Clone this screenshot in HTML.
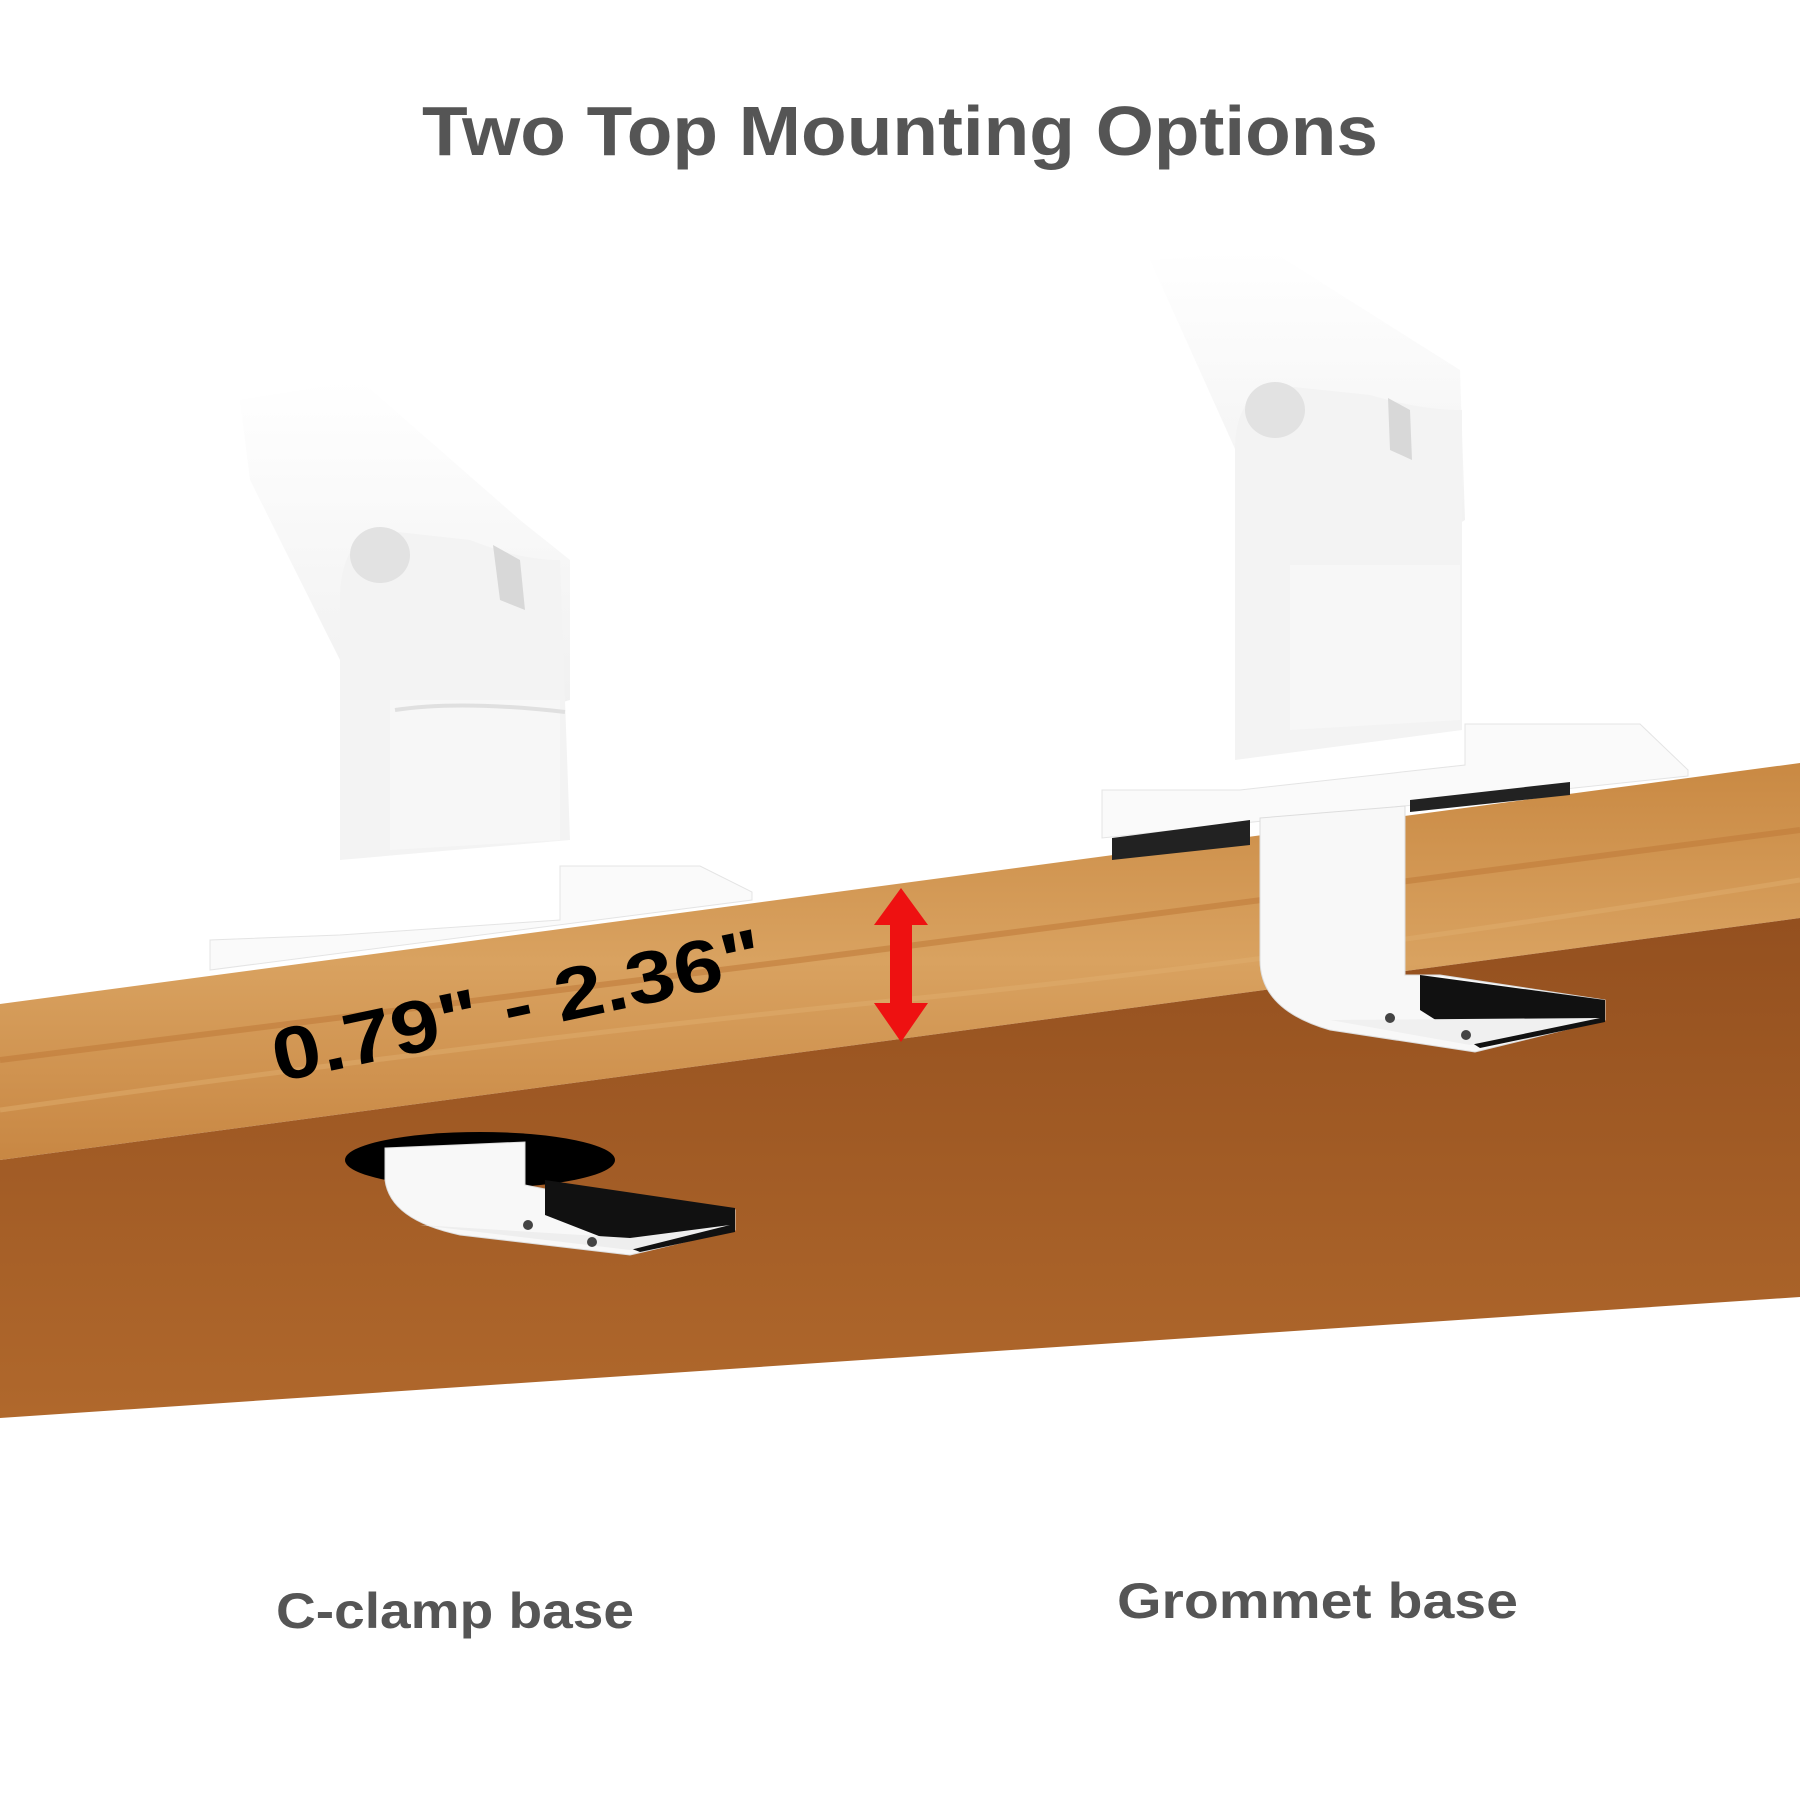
<!DOCTYPE html>
<html><head><meta charset="utf-8"><style>
html,body{margin:0;padding:0;background:#fff;}
svg{display:block;}
</style></head><body>
<svg width="1800" height="1800" viewBox="0 0 1800 1800" xmlns="http://www.w3.org/2000/svg">
<defs>
<linearGradient id="front" x1="0" y1="0" x2="0" y2="1">
<stop offset="0" stop-color="#c98943"/><stop offset="0.5" stop-color="#d9a260"/><stop offset="1" stop-color="#c88743"/>
</linearGradient>
<linearGradient id="under" x1="0" y1="0" x2="0" y2="1">
<stop offset="0" stop-color="#94501f"/><stop offset="1" stop-color="#b0682c"/>
</linearGradient>
<linearGradient id="armfade" x1="0" y1="0" x2="0" y2="1">
<stop offset="0" stop-color="#fff"/><stop offset="1" stop-color="#eeeeee"/>
</linearGradient>
</defs>
<rect width="1800" height="1800" fill="#fff"/>
<text x="422" y="155" textLength="956" lengthAdjust="spacingAndGlyphs" font-family="'Liberation Sans',sans-serif" font-weight="bold" font-size="70" fill="#555">Two Top Mounting Options</text>

<!-- left arm -->
<path d="M240 400 L360 380 L520 520 L570 560 L570 700 L500 720 L400 720 L340 660 L250 480 Z" fill="url(#armfade)" opacity="0.9"/>
<path d="M340 600 Q340 540 380 530 L470 540 Q520 560 560 560 L570 840 L340 860 Z" fill="#f3f3f3"/>
<path d="M390 700 L560 700 L560 840 L390 850 Z" fill="#f7f7f7"/>
<ellipse cx="380" cy="555" rx="30" ry="28" fill="#e2e2e2"/>
<path d="M493 545 L520 560 L525 610 L500 600 Z" fill="#d8d8d8"/>
<path d="M395 710 Q460 700 565 712" stroke="#e0e0e0" stroke-width="4" fill="none"/>
<path d="M210 940 L210 970 L752 900 L752 892 L700 866 L560 866 L560 920 L340 935 Z" fill="#fafafa" stroke="#e4e4e4"/>
<!-- right arm -->
<path d="M1150 260 L1270 250 L1460 370 L1465 520 L1400 560 L1300 560 L1240 460 Z" fill="url(#armfade)" opacity="0.9"/>
<path d="M1235 450 Q1235 395 1275 385 L1370 395 Q1420 410 1462 410 L1462 730 L1235 760 Z" fill="#f3f3f3"/>
<path d="M1290 565 L1460 565 L1460 720 L1290 730 Z" fill="#f7f7f7"/>
<ellipse cx="1275" cy="410" rx="30" ry="28" fill="#e2e2e2"/>
<path d="M1388 398 L1410 410 L1412 460 L1390 450 Z" fill="#d8d8d8"/>
<path d="M1102 790 L1102 838 L1688 776 L1688 770 L1640 724 L1465 724 L1465 765 L1240 790 Z" fill="#fafafa" stroke="#e4e4e4"/>

<!-- table -->
<polygon points="0,1004 1800,763 1800,918 0,1160" fill="url(#front)"/>
<polygon points="0,1160 1800,918 1800,1297 0,1418" fill="url(#under)"/>
<path d="M0 1060 Q400 1010 800 960 T1800 830" stroke="#c07c3a" stroke-width="6" fill="none" opacity="0.6"/>
<path d="M0 1110 Q500 1040 900 1000 T1800 880" stroke="#e0ad6d" stroke-width="5" fill="none" opacity="0.5"/>

<!-- right clamp pads -->
<polygon points="1112,838 1250,820 1250,845 1112,860" fill="#222"/>
<polygon points="1410,800 1570,782 1570,795 1410,812" fill="#222"/>
<!-- right grommet bracket -->
<path d="M1260 818 L1405 806 L1405 975 L1440 975 L1605 1000 L1605 1020 L1475 1052 L1330 1030 Q1260 1010 1260 960 Z" fill="#f8f8f8" stroke="#ddd"/>
<polygon points="1420,975 1605,1000 1605,1022 1480,1048 1420,1010" fill="#111"/>
<polygon points="1330,1020 1470,1045 1600,1018" fill="#f0f0f0"/>
<circle cx="1390" cy="1018" r="5" fill="#444"/><circle cx="1466" cy="1035" r="5" fill="#444"/>
<!-- left c-clamp under -->
<ellipse cx="480" cy="1160" rx="135" ry="28" fill="#000"/>
<path d="M385 1148 L525 1142 L525 1185 L550 1190 L735 1210 L735 1230 L630 1255 L460 1235 Q390 1220 385 1180 Z" fill="#f8f8f8" stroke="#ddd"/>
<polygon points="545,1180 735,1208 735,1232 640,1252 545,1215" fill="#111"/>
<polygon points="420,1225 630,1250 730,1225 630,1238" fill="#eee"/>
<circle cx="528" cy="1225" r="5" fill="#444"/><circle cx="592" cy="1242" r="5" fill="#444"/>

<!-- dimension text -->
<text x="0" y="0" transform="translate(278,1082) rotate(-12)" textLength="500" lengthAdjust="spacingAndGlyphs" font-family="'Liberation Sans',sans-serif" font-weight="bold" font-size="74" fill="#000">0.79" - 2.36"</text>
<!-- red arrow -->
<polygon points="901,888 928,925 912,925 912,1003 928,1003 901,1042 874,1003 890,1003 890,925 874,925" fill="#ee1111"/>

<text x="276" y="1628" textLength="358" lengthAdjust="spacingAndGlyphs" font-family="'Liberation Sans',sans-serif" font-weight="bold" font-size="50" fill="#555">C-clamp base</text>
<text x="1117" y="1618" textLength="401" lengthAdjust="spacingAndGlyphs" font-family="'Liberation Sans',sans-serif" font-weight="bold" font-size="50" fill="#555">Grommet base</text>
</svg>
</body></html>
